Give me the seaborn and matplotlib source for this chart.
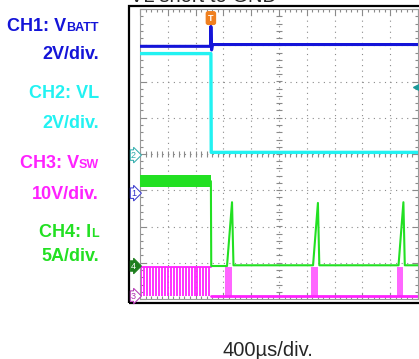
import numpy as np
import seaborn as sns
import matplotlib
matplotlib.use("Agg")
import matplotlib.pyplot as plt
from matplotlib.patches import Rectangle
from matplotlib.transforms import blended_transform_factory

# time axis in ms, 400us/div, 10 divisions
t_event = 1.02

# CH1: VBATT (V)
ch1_t = [0.0, 1.015, 1.02, 1.03, 1.045, 4.0]
ch1_v = [8.1, 8.1, 9.2, 7.9, 8.2, 8.2]

# CH2: VL (V)
ch2_t = [0.0, 1.02, 1.025, 4.0]
ch2_v = [5.6, 5.6, 0.15, 0.15]

# CH4: IL (A) - noisy band before the short, then pulses
il_band_t = [0.0, 1.02]
il_band_lo = [10.9, 10.9]
il_band_hi = [12.5, 12.5]
il_t = [1.02, 1.025, 1.252, 1.324, 1.345, 2.49, 2.56, 2.58, 3.72, 3.79, 3.81, 4.0]
il_v = [11.7, 0.0, 0.0, 8.8, 0.1, 0.1, 8.7, 0.1, 0.1, 8.8, 0.1, 0.1]

# CH3: VSW (V) - switching pulses before, bursts after
vsw_high = 8.0
vsw_low = 0.0
vsw_pulse_t = [0.02, 0.062, 0.105, 0.147, 0.19, 0.232, 0.275, 0.317, 0.36, 0.402,
               0.445, 0.487, 0.53, 0.572, 0.615, 0.657, 0.70, 0.742, 0.785, 0.827,
               0.87, 0.912, 0.955, 0.997]
vsw_burst_start = [1.225, 2.465, 3.705]
vsw_burst_end = [1.33, 2.56, 3.79]

# channel scale (units/div) and ground offset (div)
scales = {'ch1': 2, 'ch2': 2, 'ch3': 10, 'ch4': 5}
offsets = {'ch1': -1.08, 'ch2': -0.03, 'ch3': -3.92, 'ch4': -3.09}

c_blue = '#1414D8'
c_cyan = '#22F2F2'
c_mag = '#FF22FF'
c_green = '#22E022'


def to_div(v, ch):
    return np.array(v) / scales[ch] + offsets[ch]


sns.set_style('white')
plt.rcParams['font.family'] = ['Liberation Sans', 'DejaVu Sans']

W, H = 419, 359
fig = plt.figure(figsize=(W / 100, H / 100), dpi=100)
ax = fig.add_axes([140 / W, 1 - 299 / H, 278 / W, 290 / H])
ax.set_xlim(0, 4.0)
ax.set_ylim(-4, 4)

# graticule
for x in np.arange(0.4, 4.0, 0.4):
    ax.axvline(x, color='#8a8a8a', lw=0.8, ls=(0, (1, 4)), zorder=0)
for y in range(-3, 4):
    ax.axhline(y, color='#8a8a8a', lw=0.8, ls=(0, (1, 4)), zorder=0)
minor_x = np.arange(0, 4.001, 0.08)
minor_y = np.arange(-4, 4.001, 0.2)
ax.plot(minor_x, np.zeros_like(minor_x), ls='none', marker='|', ms=4, mew=0.8, color='#8a8a8a', zorder=0)
ax.plot(np.full_like(minor_y, 2.0), minor_y, ls='none', marker='_', ms=4, mew=0.8, color='#8a8a8a', zorder=0)
ax.set_xticks(np.arange(0, 4.001, 0.4))
ax.set_yticks(range(-4, 5))
ax.set_xticks(minor_x, minor=True)
ax.set_yticks(minor_y, minor=True)
ax.tick_params(which='both', direction='in', top=True, right=True, bottom=True, left=True,
               labelbottom=False, labelleft=False, color='#8a8a8a', width=0.8)
ax.tick_params(which='major', length=4)
ax.tick_params(which='minor', length=2.5)
for s in ax.spines.values():
    s.set_color('#9a9a9a')
    s.set_linewidth(0.8)
ax.set_xlabel('')
ax.set_ylabel('')

# CH3 VSW
ax.vlines(vsw_pulse_t, to_div([vsw_low], 'ch3')[0], to_div([vsw_high], 'ch3')[0],
          color=c_mag, lw=1.3, zorder=2)
sns.lineplot(x=[0.0, t_event], y=to_div([vsw_high, vsw_high], 'ch3'), ax=ax,
             color=c_mag, lw=1.3, sort=False, estimator=None, zorder=2)
for a, b in zip(vsw_burst_start, vsw_burst_end):
    ax.fill_between([a, b], to_div([vsw_low], 'ch3')[0], to_div([vsw_high], 'ch3')[0],
                    color='#FF66FF', lw=0, zorder=2)
sns.lineplot(x=[t_event, 4.0], y=to_div([vsw_low, vsw_low], 'ch3'), ax=ax,
             color=c_mag, lw=2, sort=False, estimator=None, zorder=2)

# CH4 IL
ax.fill_between(il_band_t, to_div(il_band_lo, 'ch4'), to_div(il_band_hi, 'ch4'),
                color=c_green, lw=0, zorder=3)
sns.lineplot(x=il_t, y=to_div(il_v, 'ch4'), ax=ax, color=c_green, lw=1.5,
             sort=False, estimator=None, zorder=3)

# CH2 VL
sns.lineplot(x=ch2_t, y=to_div(ch2_v, 'ch2'), ax=ax, color=c_cyan, lw=2.4,
             sort=False, estimator=None, zorder=4)

# CH1 VBATT
sns.lineplot(x=ch1_t, y=to_div(ch1_v, 'ch1'), ax=ax, color=c_blue, lw=2.2,
             sort=False, estimator=None, zorder=5)

# trigger marker and level arrow
ax.text(t_event, 3.75, 'T', ha='center', va='center', fontsize=6.5, color='white',
        weight='bold', bbox=dict(boxstyle='round,pad=0.2', fc='#F08020', ec='#F08020'), zorder=6)
ax.plot([3.97], [1.85], marker='<', ms=5, color='#1A9A9A', clip_on=False, zorder=6)

# channel ground markers
trans = blended_transform_factory(fig.transFigure, ax.transData)
marks = [('2', 'ch2', '#2AAAAA', 'white', '#2AAAAA'),
         ('1', 'ch1', '#3333CC', 'white', '#3333CC'),
         ('4', 'ch4', 'white', '#1E7E1E', '#1E7E1E'),
         ('3', 'ch3', '#B030B0', 'white', '#B030B0')]
for num, ch, tc, fc, ec in marks:
    fig.text(131 / W, offsets[ch], num, transform=trans, ha='left', va='center', fontsize=6.5,
             color=tc, bbox=dict(boxstyle='rarrow,pad=0.08', fc=fc, ec=ec, lw=0.7))

# outer scope frame
fig.add_artist(Rectangle((129 / W, 1 - 303 / H), 400 / W, 297 / H, transform=fig.transFigure,
                         fill=False, ec='black', lw=1.6))

# left labels
renderer = fig.canvas.get_renderer()
labels = [(31, 'CH1: V', 'BATT', c_blue), (59, '2V/div.', '', c_blue),
          (98, 'CH2: VL', '', c_cyan), (128, '2V/div.', '', c_cyan),
          (168, 'CH3: V', 'SW', c_mag), (199, '10V/div.', '', c_mag),
          (237, 'CH4: I', 'L', c_green), (261, '5A/div.', '', c_green)]
for ypx, main, sub, col in labels:
    xr = 99 / W
    if sub:
        t2 = fig.text(xr, 1 - ypx / H, sub, ha='right', va='baseline', fontsize=9,
                      weight='bold', color=col)
        bb = t2.get_window_extent(renderer)
        xr = fig.transFigure.inverted().transform((bb.x0, 0))[0]
    fig.text(xr, 1 - ypx / H, main, ha='right', va='baseline', fontsize=13,
             weight='bold', color=col)

# title cut off at the top and time base
fig.text(130 / W, 1 - 2.0 / H, 'VL short to GND', ha='left', va='baseline', fontsize=14.5)
fig.text(268 / W, 1 - 356 / H, '400\u00b5s/div.', ha='center', va='baseline', fontsize=14.5)

fig.savefig('out.png', dpi=100)
